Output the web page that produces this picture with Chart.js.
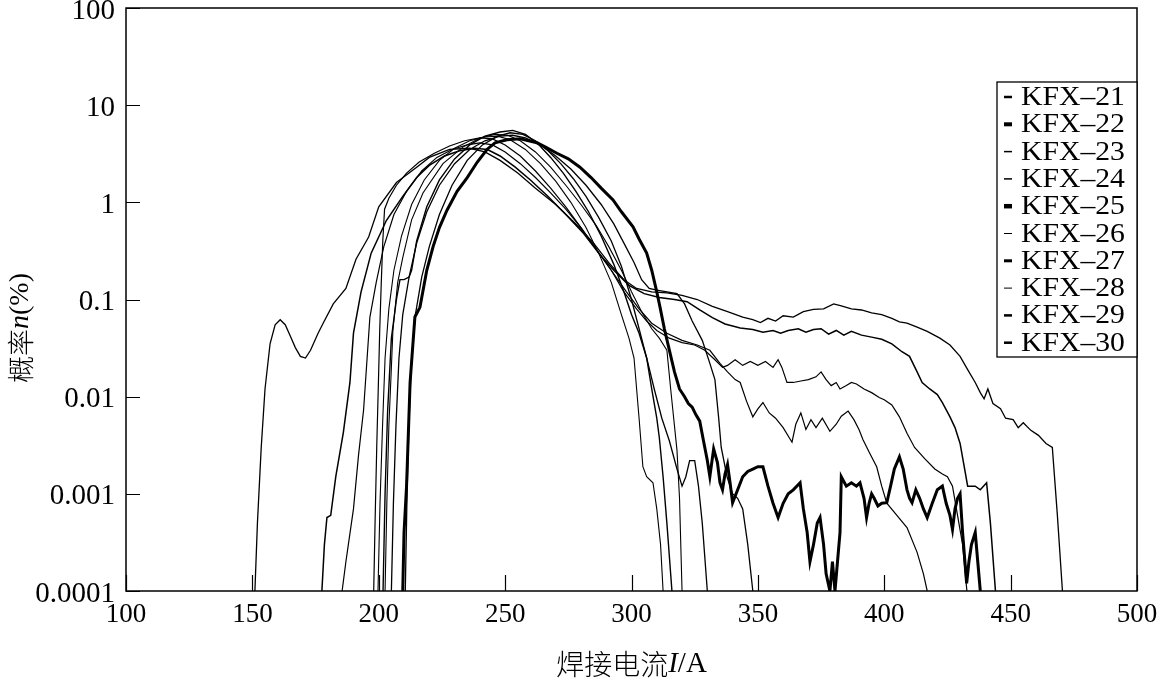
<!DOCTYPE html>
<html lang="zh">
<head>
<meta charset="utf-8">
<title>KFX 焊接电流概率分布</title>
<script src="https://cdn.jsdelivr.net/npm/chart.js@4.4.1/dist/chart.umd.min.js"></script>
<style>
  html, body { margin: 0; padding: 0; background: #fff; }
  #grafico { display: block; }
</style>
</head>
<body>
<canvas id="grafico" width="1164" height="685"></canvas>
<script>
// Datos: pares [corriente I (A), probabilidad n (%)]
const kfx21 = [[151,0.0001],[152,0.0005],[153.5,0.003],[155,0.012],[157,0.035],[159,0.055],[161,0.062],[163,0.055],[165,0.042],[167,0.032],[169,0.026],[171,0.025],[173,0.03],[176,0.045],[178,0.057],[182,0.09],[187,0.13],[191,0.26],[196,0.44],[200,0.9],[207,1.6],[215,2.3],[220,2.9],[228,3.5],[236,3.6],[242,3.3],[248,2.7],[255,2.0],[262,1.4],[270,0.95],[278,0.6],[285,0.38],[291,0.24],[297,0.16],[302,0.13],[308,0.12],[314,0.117],[320,0.11],[326,0.1],[332,0.085],[338,0.075],[344,0.066],[348,0.062],[351,0.058],[354,0.064],[357,0.06],[360,0.068],[364,0.066],[368,0.075],[372,0.079],[376,0.08],[380,0.09],[383,0.086],[387,0.08],[391,0.078],[395,0.073],[399,0.07],[403,0.064],[406,0.059],[409,0.057],[413,0.052],[417,0.047],[422,0.04],[426,0.034],[430,0.026],[433,0.019],[436,0.014],[438,0.011],[439.5,0.0095],[441,0.012],[443,0.0085],[446,0.0075],[448,0.006],[451,0.0058],[453,0.0048],[455,0.0054],[458,0.0045],[461,0.004],[464,0.0033],[466.5,0.003],[468.5,0.0006],[470.5,0.0001]];
const kfx22 = [[177.5,0.0001],[178.5,0.0003],[179.5,0.00057],[181,0.0006],[183,0.0015],[186,0.0043],[188.6,0.014],[190,0.045],[193,0.12],[197,0.3],[203,0.65],[209.5,1.15],[215,1.8],[220,2.4],[226,3.0],[232,3.4],[238,3.6],[243,3.5],[248,3.0],[254,2.3],[260,1.7],[267,1.15],[274,0.75],[281,0.48],[287,0.3],[293,0.2],[299,0.14],[305,0.115],[311,0.105],[317,0.1],[322,0.095],[327,0.078],[332,0.065],[337,0.056],[343,0.051],[348,0.049],[352,0.046],[356,0.048],[359,0.045],[362,0.048],[366,0.05],[369,0.046],[372,0.049],[375,0.05],[378,0.044],[381,0.048],[384,0.043],[387,0.047],[391,0.043],[395,0.041],[399,0.039],[403,0.035],[407,0.029],[410,0.026],[413,0.018],[415,0.014],[418,0.012],[421,0.0105],[423,0.0087],[426,0.0062],[428,0.0048],[430,0.0033],[431.5,0.002],[433,0.0012],[436,0.0012],[438,0.0011],[440.5,0.0013],[442,0.0005],[444,0.0001]];
const kfx23 = [[185.5,0.0001],[187,0.0002],[190,0.0007],[192,0.0025],[194,0.0073],[196.5,0.066],[199,0.15],[202,0.35],[206,0.75],[211,1.3],[217,2.1],[223,2.9],[229,3.5],[235,3.9],[240,4.1],[245,3.9],[250,3.3],[256,2.5],[262,1.8],[268,1.25],[274,0.85],[280,0.55],[286,0.33],[292,0.2],[297,0.12],[302,0.08],[306,0.06],[310,0.048],[315,0.04],[320,0.036],[325,0.034],[329,0.03],[333,0.024],[336,0.02],[338,0.021],[341,0.024],[344,0.021],[347,0.023],[350,0.021],[353,0.023],[356,0.02],[358,0.024],[359.5,0.02],[361.5,0.014],[364,0.014],[367,0.0145],[370,0.015],[373,0.016],[375,0.018],[377,0.015],[379,0.013],[381,0.014],[382.5,0.012],[385,0.013],[387,0.014],[389,0.0135],[392,0.012],[395,0.011],[398,0.0098],[400,0.0093],[403,0.0082],[406,0.0062],[409,0.0042],[412,0.003],[416,0.0023],[420,0.0018],[423,0.0016],[425,0.0015],[427,0.0012],[429,0.0006],[431,0.0003],[432.7,0.0001]];
const kfx24 = [[198,0.0001],[198.6,0.0006],[199.2,0.003],[199.8,0.012],[200.4,0.05],[201,0.15],[201.6,0.4],[202.3,0.85],[204,1.1],[207,1.5],[211,2.0],[216,2.6],[222,3.2],[228,3.8],[234,4.3],[240,4.6],[245,4.5],[250,3.9],[256,3.0],[262,2.1],[268,1.4],[274,0.9],[280,0.55],[286,0.33],[292,0.2],[298,0.12],[303,0.08],[308,0.057],[314,0.045],[320,0.038],[326,0.034],[331,0.03],[335,0.022],[338,0.018],[341,0.015],[343,0.014],[345.5,0.009],[348,0.0062],[350,0.0075],[352,0.0087],[354.5,0.0068],[357,0.006],[360,0.0048],[363.5,0.0034],[365,0.0052],[367,0.0068],[369,0.0046],[371,0.0058],[373,0.0048],[375.5,0.006],[378.5,0.0044],[381,0.0052],[383,0.0063],[385.7,0.0071],[388,0.0058],[390,0.0046],[391.6,0.0036],[394,0.0027],[397,0.0019],[399,0.0012],[401,0.0008],[405,0.0006],[409,0.00045],[413,0.00025],[415.5,0.00015],[417,0.0001]];
const kfx25 = [[209.5,0.0001],[210,0.0004],[211,0.0012],[212.4,0.014],[214.3,0.066],[216.3,0.083],[219,0.2],[221.5,0.35],[224,0.55],[227,0.83],[231,1.3],[235,1.8],[239,2.6],[242.8,3.5],[246,4.1],[250.7,4.4],[256,4.5],[262.6,4.1],[266,3.7],[270.5,3.2],[275,2.8],[279.6,2.3],[284,1.8],[288,1.4],[292.7,1.06],[296,0.8],[300.6,0.56],[303,0.42],[306,0.3],[308,0.2],[310,0.12],[311.3,0.083],[313,0.05],[315,0.03],[317,0.018],[319,0.012],[321,0.01],[322.5,0.0085],[324,0.0078],[325.5,0.0065],[327,0.0056],[328.5,0.0035],[330,0.0022],[331,0.0015],[332.5,0.0029],[334,0.0021],[335,0.0013],[336,0.0011],[337,0.0016],[338,0.002],[339,0.0013],[340,0.00081],[342,0.0011],[344,0.0015],[346,0.0017],[348,0.0018],[350,0.0019],[352,0.0019],[354,0.0012],[356,0.0008],[358,0.00057],[360,0.0008],[362,0.001],[364,0.0011],[366.7,0.0013],[368,0.0007],[369.5,0.0004],[370.6,0.0002],[372,0.0003],[373.5,0.0005],[374.6,0.00057],[376,0.0003],[377,0.00015],[378.5,0.0001],[379.5,0.0002],[380.5,0.0001],[381.5,0.0002],[382.5,0.0004],[383,0.0015],[385,0.0012],[387,0.0013],[389,0.0012],[390.4,0.0013],[392,0.0009],[393,0.00057],[394,0.0008],[395,0.001],[396,0.0009],[397.5,0.00075],[399,0.0008],[401,0.00081],[402.5,0.0012],[404,0.0018],[406,0.0024],[407.5,0.0018],[409,0.0011],[410,0.0009],[411,0.00081],[412.5,0.0011],[414,0.0009],[415.5,0.0007],[417,0.00057],[419,0.0008],[421,0.0011],[423,0.0012],[424.5,0.0008],[426,0.0006],[427,0.00043],[428,0.0007],[429,0.0009],[430,0.001],[431,0.0004],[432.6,0.00012],[433.5,0.0002],[434.5,0.0003],[436,0.0004],[437,0.0002],[438,0.0001]];
const kfx26 = [[199.7,0.0001],[200.5,0.0008],[201.5,0.005],[202.5,0.025],[204,0.08],[206,0.2],[209,0.45],[213,0.95],[218,1.7],[224,2.7],[230,3.6],[236,4.3],[242,4.7],[247,4.8],[252,4.4],[258,3.5],[264,2.5],[270,1.65],[276,1.0],[282,0.55],[287,0.3],[292,0.15],[296,0.07],[299,0.04],[301,0.025],[303,0.006],[304.5,0.0019],[306,0.0015],[308.5,0.0013],[310,0.0007],[311.5,0.0003],[312.5,0.0001]];
const kfx27 = [[201.7,0.0001],[202.5,0.001],[203.5,0.007],[205,0.04],[207,0.1],[208.4,0.16],[210,0.16],[212,0.17],[213,0.2],[215,0.4],[219,0.9],[224,1.7],[230,2.8],[236,3.9],[242,4.8],[248,5.3],[253,5.5],[258,5.0],[263,4.0],[268,2.9],[273,2.0],[278,1.3],[283,0.8],[288,0.45],[293,0.23],[297,0.12],[300,0.07],[303,0.045],[306,0.025],[308,0.012],[310,0.006],[311,0.0038],[312.5,0.0015],[314,0.0005],[316,0.0001]];
const kfx28 = [[202.5,0.0001],[203.2,0.0008],[204,0.005],[205,0.02],[205.6,0.048],[207.5,0.15],[209.5,0.27],[213,0.66],[217.5,1.25],[225.4,2.5],[233.3,3.7],[240,4.6],[246,5.0],[251,4.9],[256,4.3],[262,3.3],[268,2.3],[274,1.5],[280,0.95],[286,0.58],[291,0.35],[296,0.2],[300,0.12],[304,0.075],[308,0.05],[311,0.04],[314,0.03],[315.5,0.012],[317,0.005],[318,0.0028],[319,0.0009],[320,0.0001]];
const kfx29 = [[210.5,0.0001],[211.2,0.001],[212,0.006],[213,0.025],[214.5,0.07],[217,0.17],[220,0.35],[224,0.75],[229,1.5],[235,2.7],[241,3.9],[247,4.8],[252,5.2],[257,5.0],[262,4.3],[267,3.4],[272,2.5],[277,1.75],[282,1.15],[287,0.7],[292,0.4],[296,0.22],[300,0.1],[303,0.05],[306,0.025],[309,0.012],[312,0.006],[315,0.0035],[318,0.0018],[320,0.0012],[321.5,0.0015],[323,0.0022],[325,0.0022],[326.5,0.0012],[328,0.0005],[330,0.0001]];
const kfx30 = [[205,0.0001],[205.8,0.0008],[206.8,0.005],[208,0.025],[209.5,0.07],[212,0.17],[215,0.38],[219,0.8],[224,1.5],[230,2.5],[236,3.5],[242,4.3],[248,4.8],[253,4.9],[258,4.6],[264,3.9],[270,3.0],[276,2.2],[282,1.5],[288,0.95],[293,0.6],[297,0.38],[301,0.24],[304,0.16],[307,0.13],[310,0.125],[314,0.12],[318,0.115],[321,0.09],[324,0.06],[328,0.038],[331,0.022],[333,0.015],[334.5,0.006],[335.5,0.003],[337.8,0.0015],[340,0.001],[342,0.0009],[344,0.0007],[346,0.0003],[348,0.0001]];

const etiquetas = ['KFX–21', 'KFX–22', 'KFX–23', 'KFX–24', 'KFX–25', 'KFX–26', 'KFX–27', 'KFX–28', 'KFX–29', 'KFX–30'];
const xTicks = [100, 150, 200, 250, 300, 350, 400, 450, 500];
const yTicks = [0.0001, 0.001, 0.01, 0.1, 1, 10, 100];

document.addEventListener('DOMContentLoaded', function () {
    const series = [kfx21, kfx22, kfx23, kfx24, kfx25, kfx26, kfx27, kfx28, kfx29, kfx30];
    // Grosor de cada curva y de su muestra en la leyenda
    const grosor = [1.3, 1.5, 1.2, 1.2, 3, 1.1, 1.4, 1.1, 1.3, 1.3];
    const grosorLeyenda = [2.5, 4, 1.5, 1.5, 4.5, 1, 3, 1, 2.5, 2.5];
    const serif = "'Liberation Serif', 'DejaVu Serif', serif";
    const cjk = "'Noto Sans CJK SC', sans-serif";

    // Marco, marcas hacia dentro, leyenda y títulos de los ejes
    const marco = {
        id: 'marco',
        afterDatasetsDraw(chart) {
            const ctx = chart.ctx;
            const a = chart.chartArea;
            const x = chart.scales.x;
            const y = chart.scales.y;
            ctx.save();
            ctx.strokeStyle = '#000';
            ctx.lineWidth = 1.5;
            ctx.strokeRect(a.left, a.top, a.right - a.left, a.bottom - a.top);
            ctx.lineWidth = 1.2;
            ctx.beginPath();
            y.ticks.forEach(function (t) {
                const py = Math.round(y.getPixelForValue(t.value)) + 0.5;
                ctx.moveTo(a.left, py);
                ctx.lineTo(a.left + 14, py);
            });
            x.ticks.forEach(function (t) {
                const px = Math.round(x.getPixelForValue(t.value)) + 0.5;
                ctx.moveTo(px, a.bottom);
                ctx.lineTo(px, a.bottom - 16);
            });
            ctx.stroke();

            // Leyenda
            const lx = 997, ly = 82, lw = a.right - 997, lh = 275;
            ctx.fillStyle = '#fff';
            ctx.fillRect(lx, ly, lw, lh);
            ctx.lineWidth = 1.3;
            ctx.strokeRect(lx, ly, lw, lh);
            ctx.fillStyle = '#000';
            ctx.textBaseline = 'middle';
            ctx.textAlign = 'left';
            ctx.font = '27px ' + serif;
            chart.data.datasets.forEach(function (ds, i) {
                const yc = ly + 15 + i * 27.3;
                const h = grosorLeyenda[i];
                ctx.fillRect(1004, yc - h / 2, 8, h);
                ctx.save();
                ctx.translate(1021, yc + 1);
                ctx.scale(1.1, 1);
                ctx.fillText(ds.label, 0, 0);
                ctx.restore();
            });
            ctx.restore();
        },
        afterDraw(chart) {
            const ctx = chart.ctx;
            const a = chart.chartArea;
            ctx.save();
            ctx.fillStyle = '#000';
            ctx.textBaseline = 'middle';
            ctx.textAlign = 'left';
            // Título del eje x: 焊接电流I/A
            const partesX = [['焊接电流', '300 28px ' + cjk], ['I', 'italic 29px ' + serif], ['/A', '29px ' + serif]];
            dibujarPartes(ctx, partesX, (a.left + a.right) / 2, 664);
            // Título del eje y: 概率n(%)
            ctx.translate(21, 328);
            ctx.rotate(-Math.PI / 2);
            const partesY = [['概率', '300 27px ' + cjk], ['n', 'italic 28px ' + serif], ['(%)', '28px ' + serif]];
            dibujarPartes(ctx, partesY, 0, 0);
            ctx.restore();
        }
    };

    function dibujarPartes(ctx, partes, cx, cy) {
        let total = 0;
        partes.forEach(function (p) { ctx.font = p[1]; total += ctx.measureText(p[0]).width; });
        let px = cx - total / 2;
        partes.forEach(function (p) {
            ctx.font = p[1];
            ctx.fillText(p[0], px, cy);
            px += ctx.measureText(p[0]).width;
        });
    }

    const ctx = document.getElementById('grafico').getContext('2d');
    new Chart(ctx, {
        type: 'scatter',
        data: {
            datasets: series.map(function (s, i) {
                return {
                    label: etiquetas[i],
                    data: s.map(function (p) { return { x: p[0], y: p[1] }; }),
                    showLine: true,
                    borderColor: '#000',
                    backgroundColor: '#000',
                    borderWidth: grosor[i],
                    pointRadius: 0,
                    tension: 0
                };
            })
        },
        options: {
            responsive: false,
            animation: false,
            layout: { padding: { top: 8, right: 27, left: 0, bottom: 0 } },
            plugins: { legend: { display: false }, tooltip: { enabled: false } },
            scales: {
                x: {
                    type: 'linear',
                    min: 100,
                    max: 500,
                    afterBuildTicks: function (scale) { scale.ticks = xTicks.map(function (v) { return { value: v }; }); },
                    afterFit: function (scale) {
                        scale.height = 94;
                        scale.paddingLeft = 0;
                        scale.paddingRight = 0;
                    },
                    grid: { display: false, drawTicks: false },
                    border: { display: false },
                    ticks: { color: '#000', padding: 8, maxRotation: 0, autoSkip: false, font: { family: serif, size: 27 } }
                },
                y: {
                    type: 'logarithmic',
                    min: 0.0001,
                    max: 100,
                    afterBuildTicks: function (scale) { scale.ticks = yTicks.map(function (v) { return { value: v }; }); },
                    afterFit: function (scale) {
                        scale.width = 126;
                        scale.paddingTop = 0;
                        scale.paddingBottom = 0;
                    },
                    grid: { display: false, drawTicks: false },
                    border: { display: false },
                    ticks: {
                        color: '#000',
                        padding: 11,
                        labelOffset: 3,
                        autoSkip: false,
                        font: { family: serif, size: 29 },
                        callback: function (v) { return String(v); }
                    }
                }
            }
        },
        plugins: [marco]
    });
});
</script>
</body>
</html>
